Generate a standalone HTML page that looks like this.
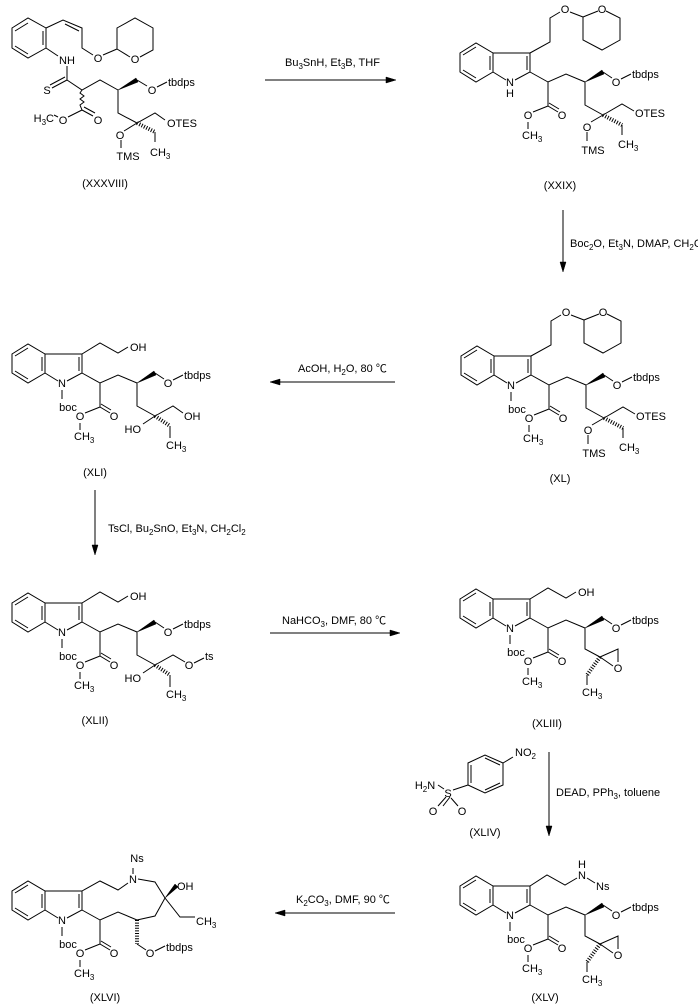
<!DOCTYPE html>
<html><head><meta charset="utf-8"><style>
html,body{margin:0;padding:0;background:#fff;}
svg{display:block;font-family:"Liberation Sans","Noto Sans CJK SC",sans-serif;font-size:11px;}
path,line,polyline{stroke:#000;stroke-width:1;fill:none;}
polygon.r{fill:none;stroke:#000;stroke-width:1;}
polygon.w{fill:#000;stroke:#000;stroke-width:0.5;}
.h{stroke-width:4;stroke-dasharray:1,1.6;}
.m{text-anchor:middle;}
.e{text-anchor:end;}
</style></head><body>
<svg width="698" height="1007" viewBox="0 0 698 1007" xmlns="http://www.w3.org/2000/svg">

<!-- XXXVIII -->
<g>
<polygon class="r" points="12,28 28,18 46,28 46,48 28,58 12,48"/>
<path d="M15,31L28,23M43,31V45M15,46L28,54"/>
<path d="M46,28L63,20L82,28V48L93,55M65,24L79,31"/>
<text x="98" y="62" class="m">O</text>
<path d="M103,55L117,49M117,49V28L135,18L153,28V50L140,57M130,57L117,49"/>
<text x="135" y="63" class="m">O</text>
<path d="M46,48L58,56"/>
<text x="67" y="64" class="m">NH</text>
<path d="M67,66V80M67,80L52,88M65,77L50,85"/>
<text x="47" y="94" class="m">S</text>
<path d="M67,80L82,90L100,80L118,90"/>
<polygon class="w" points="118,90 136,78 138,82"/>
<path d="M137,80L147,86M157,87L167,82"/>
<text x="152" y="94" class="m">O</text>
<text x="168" y="86">tbdps</text>
<path d="M82,90L80,93L84,96L80,99L84,102L80,105L82,110M82,110L93,116M84,107L95,113M82,110L68,117"/>
<text x="98" y="124" class="m">O</text>
<text x="63" y="124" class="m">O</text>
<path d="M58,117L54,115"/>
<text x="54" y="122" class="e">H<tspan dy="3" font-size="8">3</tspan><tspan dy="-3">C</tspan></text>
<path d="M118,90V113L137,123L155,113L165,120M137,123L124,131M121,140V148"/>
<text x="167" y="127">OTES</text>
<text x="120" y="139" class="m">O</text>
<text x="128" y="160" class="m">TMS</text>
<line class="h" x1="137" y1="123" x2="155" y2="132"/>
<path d="M155,132V142"/>
<text x="150" y="156">CH<tspan dy="3" font-size="8">3</tspan></text>
<text x="105" y="187" class="m">(XXXVIII)</text>
</g>

<!-- Arrow 1 -->
<path d="M265,80H390"/><polygon class="w" points="396,80 386,77 386,83"/>
<text x="285" y="66">Bu<tspan dy="3" font-size="8">3</tspan><tspan dy="-3">SnH, Et</tspan><tspan dy="3" font-size="8">3</tspan><tspan dy="-3">B, THF</tspan></text>

<!-- XXIX -->
<g transform="translate(448,-301)">
<polygon class="r" points="12,354 28,344 45,354 45,373 28,383 12,373"/>
<path d="M15,356L28,348M15,371L28,379M42,357L42,371M79,357L79,371M45,354H82V373L67,381M58,381L45,373M82,373L100,383L118,375L137,383M100,383V407L110,413M101,404L111,410M100,407L85,413M80,423V430"/>
<text x="62" y="387" class="m">N</text><text x="114" y="420" class="m">O</text><text x="80" y="420" class="m">O</text><text x="74" y="440">CH<tspan dy="3" font-size="8">3</tspan></text>
<polygon class="w" points="137,383 154,371 156,375"/>
<path d="M155,373L164,379M173,380L183,375M137,383V406L155,416"/>
<text x="168" y="387" class="m">O</text><text x="184" y="379">tbdps</text>
<text x="62" y="398" class="m">H</text>
<path d="M82,354L102,343V319L112,313M122,313L135,318M135,318V341L154,351L172,341V319L158,312M150,312L135,318"/>
<text x="117" y="314" class="m">O</text><text x="154" y="314" class="m">O</text>
<path d="M155,416L174,405L186,412M155,416L143,423M139,433V442M174,426V436"/>
<text x="187" y="418">OTES</text><text x="139" y="432" class="m">O</text><text x="145" y="455" class="m">TMS</text>
<line class="h" x1="155" y1="416" x2="174" y2="426"/>
<text x="170" y="449">CH<tspan dy="3" font-size="8">3</tspan></text>
</g>
<text x="560" y="189" class="m">(XXIX)</text>

<!-- Arrow 2 -->
<path d="M563,210V266"/><polygon class="w" points="563,272 560,262 566,262"/>
<text x="570" y="247">Boc<tspan dy="3" font-size="8">2</tspan><tspan dy="-3">O, Et</tspan><tspan dy="3" font-size="8">3</tspan><tspan dy="-3">N, DMAP, CH</tspan><tspan dy="3" font-size="8">2</tspan><tspan dy="-3">Cl</tspan><tspan dy="3" font-size="8">2</tspan></text>

<!-- XL -->
<g transform="translate(449,2)">
<polygon class="r" points="12,354 28,344 45,354 45,373 28,383 12,373"/>
<path d="M15,356L28,348M15,371L28,379M42,357L42,371M79,357L79,371M45,354H82V373L67,381M58,381L45,373M82,373L100,383L118,375L137,383M100,383V407L110,413M101,404L111,410M100,407L85,413M80,423V430"/>
<text x="62" y="387" class="m">N</text><text x="114" y="420" class="m">O</text><text x="80" y="420" class="m">O</text><text x="74" y="440">CH<tspan dy="3" font-size="8">3</tspan></text>
<polygon class="w" points="137,383 154,371 156,375"/>
<path d="M155,373L164,379M173,380L183,375M137,383V406L155,416"/>
<text x="168" y="387" class="m">O</text><text x="184" y="379">tbdps</text>
<path d="M62,390V399"/><text x="68" y="411" class="m">boc</text>
<path d="M82,354L102,343V319L112,313M122,313L135,318M135,318V341L154,351L172,341V319L158,312M150,312L135,318"/>
<text x="117" y="314" class="m">O</text><text x="154" y="314" class="m">O</text>
<path d="M155,416L174,405L186,412M155,416L143,423M139,433V442M174,426V436"/>
<text x="187" y="418">OTES</text><text x="139" y="432" class="m">O</text><text x="145" y="455" class="m">TMS</text>
<line class="h" x1="155" y1="416" x2="174" y2="426"/>
<text x="170" y="449">CH<tspan dy="3" font-size="8">3</tspan></text>
</g>
<text x="560" y="482" class="m">(XL)</text>

<!-- Arrow 3 -->
<path d="M276,382H395"/><polygon class="w" points="270,382 280,379 280,385"/>
<text x="298" y="372">AcOH, H<tspan dy="3" font-size="8">2</tspan><tspan dy="-3">O, 80 ℃</tspan></text>

<!-- XLI -->
<g>
<polygon class="r" points="12,354 28,344 45,354 45,373 28,383 12,373"/>
<path d="M15,356L28,348M15,371L28,379M42,357L42,371M79,357L79,371M45,354H82V373L67,381M58,381L45,373M82,373L100,383L118,375L137,383M100,383V407L110,413M101,404L111,410M100,407L85,413M80,423V430"/>
<text x="62" y="387" class="m">N</text><text x="114" y="420" class="m">O</text><text x="80" y="420" class="m">O</text><text x="74" y="440">CH<tspan dy="3" font-size="8">3</tspan></text>
<polygon class="w" points="137,383 154,371 156,375"/>
<path d="M155,373L164,379M173,380L183,375M137,383V406L155,416"/>
<text x="168" y="387" class="m">O</text><text x="184" y="379">tbdps</text>
<path d="M62,390V399"/><text x="68" y="411" class="m">boc</text>
<path d="M82,354L100,343L118,353L128,347"/><text x="130" y="351">OH</text>
<path d="M155,416L173,406L183,413M155,416L143,424M170,426V438"/>
<text x="184" y="420">OH</text><text x="141" y="433" class="e">HO</text>
<line class="h" x1="155" y1="416" x2="170" y2="426"/>
<text x="166" y="449">CH<tspan dy="3" font-size="8">3</tspan></text>
</g>
<text x="95" y="476" class="m">(XLI)</text>

<!-- Arrow 4 -->
<path d="M95,490V549"/><polygon class="w" points="95,555 92,545 98,545"/>
<text x="108" y="532">TsCl, Bu<tspan dy="3" font-size="8">2</tspan><tspan dy="-3">SnO, Et</tspan><tspan dy="3" font-size="8">3</tspan><tspan dy="-3">N, CH</tspan><tspan dy="3" font-size="8">2</tspan><tspan dy="-3">Cl</tspan><tspan dy="3" font-size="8">2</tspan></text>

<!-- XLII -->
<g transform="translate(0,249)">
<polygon class="r" points="12,354 28,344 45,354 45,373 28,383 12,373"/>
<path d="M15,356L28,348M15,371L28,379M42,357L42,371M79,357L79,371M45,354H82V373L67,381M58,381L45,373M82,373L100,383L118,375L137,383M100,383V407L110,413M101,404L111,410M100,407L85,413M80,423V430"/>
<text x="62" y="387" class="m">N</text><text x="114" y="420" class="m">O</text><text x="80" y="420" class="m">O</text><text x="74" y="440">CH<tspan dy="3" font-size="8">3</tspan></text>
<polygon class="w" points="137,383 154,371 156,375"/>
<path d="M155,373L164,379M173,380L183,375M137,383V406L155,416"/>
<text x="168" y="387" class="m">O</text><text x="184" y="379">tbdps</text>
<path d="M62,390V399"/><text x="68" y="411" class="m">boc</text>
<path d="M82,354L100,343L118,353L128,347"/><text x="130" y="351">OH</text>
<path d="M155,416L173,406L185,413M194,414L204,409M155,416L143,424M170,426V438"/>
<text x="189" y="420" class="m">O</text><text x="205" y="411">ts</text><text x="141" y="433" class="e">HO</text>
<line class="h" x1="155" y1="416" x2="170" y2="426"/>
<text x="166" y="449">CH<tspan dy="3" font-size="8">3</tspan></text>
</g>
<text x="95" y="724" class="m">(XLII)</text>

<!-- Arrow 5 -->
<path d="M270,633H394"/><polygon class="w" points="400,633 390,630 390,636"/>
<text x="282" y="624">NaHCO<tspan dy="3" font-size="8">3</tspan><tspan dy="-3">, DMF, 80 ℃</tspan></text>

<!-- XLIII -->
<g transform="translate(448,245)">
<polygon class="r" points="12,354 28,344 45,354 45,373 28,383 12,373"/>
<path d="M15,356L28,348M15,371L28,379M42,357L42,371M79,357L79,371M45,354H82V373L67,381M58,381L45,373M82,373L100,383L118,375L137,383M100,383V407L110,413M101,404L111,410M100,407L85,413M80,423V430"/>
<text x="62" y="387" class="m">N</text><text x="114" y="420" class="m">O</text><text x="80" y="420" class="m">O</text><text x="74" y="440">CH<tspan dy="3" font-size="8">3</tspan></text>
<polygon class="w" points="137,383 154,371 156,375"/>
<path d="M155,373L164,379M173,380L183,375M137,383V404L152,412"/>
<text x="168" y="387" class="m">O</text><text x="184" y="379">tbdps</text>
<path d="M62,390V399"/><text x="68" y="411" class="m">boc</text>
<path d="M82,354L100,343L118,353L128,347"/><text x="130" y="351">OH</text>
<path d="M152,412L170,404V417M152,412L165,421M139,430V440"/>
<text x="170" y="427" class="m">O</text>
<line class="h" x1="152" y1="412" x2="139" y2="430"/>
<text x="134" y="451">CH<tspan dy="3" font-size="8">3</tspan></text>
</g>
<text x="547" y="727" class="m">(XLIII)</text>

<!-- XLIV -->
<g>
<polygon class="r" points="468,763 485,755 503,763 503,785 485,793 468,785"/>
<path d="M471,765V783M485,758L500,765M485,790L500,783M503,763L513,757"/>
<text x="515" y="756">NO<tspan dy="3" font-size="8">2</tspan></text>
<path d="M468,785L453,790M438,785L444,789M446,797L438,806M450,797L443,806M451,798L458,806"/>
<text x="448" y="797" class="m">S</text>
<text x="425" y="789" class="m">H<tspan dy="3" font-size="8">2</tspan><tspan dy="-3">N</tspan></text>
<text x="433" y="815" class="m">O</text><text x="462" y="815" class="m">O</text>
<text x="485" y="836" class="m">(XLIV)</text>
</g>

<!-- Arrow 6 -->
<path d="M549,752V829"/><polygon class="w" points="549,836 546,826 552,826"/>
<text x="556" y="796">DEAD, PPh<tspan dy="3" font-size="8">3</tspan><tspan dy="-3">, toluene</tspan></text>

<!-- XLV -->
<g transform="translate(448,532)">
<polygon class="r" points="12,354 28,344 45,354 45,373 28,383 12,373"/>
<path d="M15,356L28,348M15,371L28,379M42,357L42,371M79,357L79,371M45,354H82V373L67,381M58,381L45,373M82,373L100,383L118,375L137,383M100,383V407L110,413M101,404L111,410M100,407L85,413M80,423V430"/>
<text x="62" y="387" class="m">N</text><text x="114" y="420" class="m">O</text><text x="80" y="420" class="m">O</text><text x="74" y="440">CH<tspan dy="3" font-size="8">3</tspan></text>
<polygon class="w" points="137,383 154,371 156,375"/>
<path d="M155,373L164,379M173,380L183,375M137,383V404L152,412"/>
<text x="168" y="387" class="m">O</text><text x="184" y="379">tbdps</text>
<path d="M62,390V399"/><text x="68" y="411" class="m">boc</text>
<path d="M82,354L99,343L117,353L129,346M139,346L147,351"/>
<text x="134" y="347" class="m">N</text><text x="134" y="336" class="m">H</text><text x="148" y="358">Ns</text>
<path d="M152,412L170,404V417M152,412L165,421M139,430V440"/>
<text x="170" y="427" class="m">O</text>
<line class="h" x1="152" y1="412" x2="139" y2="430"/>
<text x="134" y="451">CH<tspan dy="3" font-size="8">3</tspan></text>
</g>
<text x="545" y="1001" class="m">(XLV)</text>

<!-- Arrow 7 -->
<path d="M281,913H395"/><polygon class="w" points="275,913 285,910 285,916"/>
<text x="296" y="903">K<tspan dy="3" font-size="8">2</tspan><tspan dy="-3">CO</tspan><tspan dy="3" font-size="8">3</tspan><tspan dy="-3">, DMF, 90 ℃</tspan></text>

<!-- XLVI -->
<g transform="translate(0,537)">
<polygon class="r" points="12,354 28,344 45,354 45,373 28,383 12,373"/>
<path d="M15,356L28,348M15,371L28,379M42,357L42,371M79,357L79,371M45,354H82V373L67,381M58,381L45,373M82,373L100,383L118,375L137,383M100,383V407L110,413M101,404L111,410M100,407L85,413M80,423V430"/>
<text x="62" y="387" class="m">N</text><text x="114" y="420" class="m">O</text><text x="80" y="420" class="m">O</text><text x="74" y="440">CH<tspan dy="3" font-size="8">3</tspan></text>
<path d="M62,390V399"/><text x="68" y="411" class="m">boc</text>
</g>
<g>
<line class="h" x1="137" y1="920" x2="137" y2="944"/>
<path d="M137,944L146,950M155,951L165,946M137,920L155,916L165,898L180,917H195M165,898L155,882L138,879M133,874V868M128,883L118,890L100,881L82,891"/>
<polygon class="w" points="165,898 175,884 178,887"/>
<text x="150" y="957" class="m">O</text><text x="166" y="951">tbdps</text>
<text x="177" y="890">OH</text>
<text x="196" y="925">CH<tspan dy="3" font-size="8">3</tspan></text>
<text x="133" y="883" class="m">N</text><text x="137" y="862" class="m">Ns</text>
<text x="105" y="1001" class="m">(XLVI)</text>
</g>
</svg>
</body></html>
